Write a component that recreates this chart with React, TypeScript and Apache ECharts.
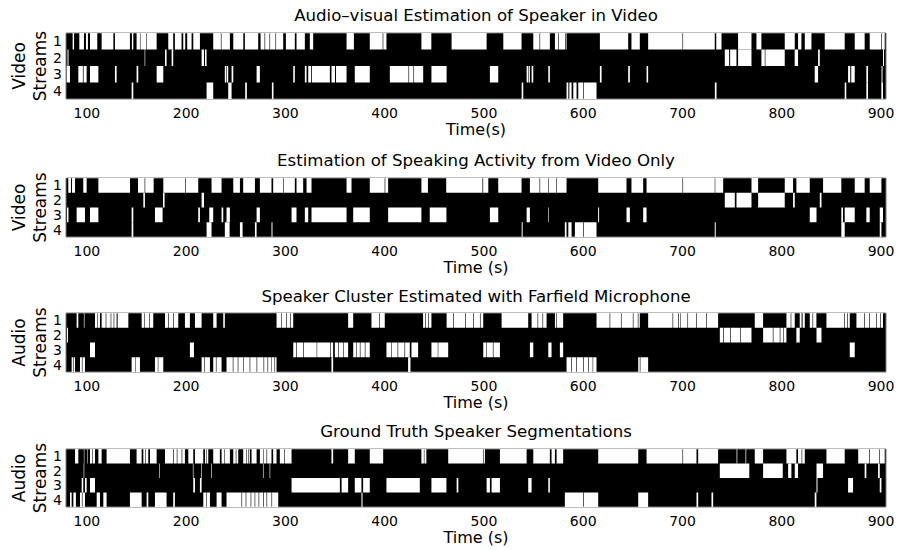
import React, { useEffect, useRef } from 'react';
import * as echarts from 'echarts';

const rowLabels = ['1', '2', '3', '4'];
const xTicks = [100, 200, 300, 400, 500, 600, 700, 800, 900];
const X_MIN = 79;
const X_MAX = 905;

const panelTitles = [
  'Audio\u2013visual Estimation of Speaker in Video',
  'Estimation of Speaking Activity from Video Only',
  'Speaker Cluster Estimated with Farfield Microphone',
  'Ground Truth Speaker Segmentations',
];
const yNamesTop = ['Video', 'Video', 'Audio', 'Audio'];
const yNamesBottom = ['Streams', 'Streams', 'Streams', 'Streams'];
const xNames = ['Time(s)', 'Time (s)', 'Time (s)', 'Time (s)'];

// White (speaking) intervals [start, end] in seconds, per stream row
const avRow1 = [[85.7,87.1],[92.4,97.1],[99.1,101.1],[103.2,110.5],[114.9,126.7],[128.3,143.4],[145.4,146.8],[150.1,153.5],[154,160],[160.5,170.3],[182,187],[188.7,195.4],[197.1,199.1],[201.1,205.5],[207.2,213.9],[227.3,235],[235.6,244.1],[247.5,257.6],[259.2,272.6],[275,279],[279.6,284],[284.6,290],[290.6,297.8],[300.5,309.5],[311.2,319.6],[324.6,328],[361.6,369],[385,398],[398.6,401.8],[437,447],[467.4,502.7],[519.5,537.9],[549.7,556],[556.6,566.4],[571.5,575],[575.6,582],[582.6,583.2],[616.8,645.3],[648.6,657],[665.4,700],[700.6,732.5],[734,739.3],[756,769.5],[774.5,779.5],[803,813.1],[816.4,819.8],[823.2,829.9],[843.3,863.4],[873.5,883.5],[888.6,900],[900.6,903.7]];
const avRow2 = [[80.5,81.5],[158.2,158.8],[178.7,180.3],[185.4,187],[215.6,218],[219,220.6],[742.6,747],[748,754.4],[756,769.5],[779.5,782.9],[783.5,803],[813,816.4],[836.6,838.3],[902,903]];
const avRow3 = [[79.7,83],[91.4,96],[96.7,99.8],[103.2,111.6],[128.3,130],[150.1,151.8],[170.3,177],[239,240.5],[241,242.4],[245.8,247.5],[271,274.3],[307.9,309.5],[319.6,321.3],[323,326],[326.8,344.8],[346.4,350],[351,361.6],[369.9,385],[405.2,424],[424.6,429],[429.6,438.8],[447.1,462.4],[506,514.4],[543,544.5],[545,546.3],[548,549.7],[564.8,566.4],[616.8,618.5],[645.3,647],[663.8,665.4],[833.2,836.6],[866.8,869],[870,873.5],[885.2,886.9],[900.5,901.5]];
const avRow4 = [[145.1,146.8],[220.6,227.3],[242.4,245.8],[259.5,261.2],[286.4,288],[538,539.6],[583.2,585],[586,588.3],[590,593.3],[595,600],[600.6,613.4],[732.6,734.3],[863.4,865],[885.2,886.9],[900.3,902]];

const voRow1 = [[81.3,84],[85,88.1],[96.4,99.8],[111.6,143.5],[151.5,158.2],[158.8,167.3],[177,199],[199.6,212.2],[225.6,235.7],[247.5,254.2],[257.5,269.3],[274.3,286],[287.7,298],[298.6,309.5],[311.2,317.9],[321.3,326.3],[361.6,366.6],[385,400],[400.6,403.5],[437,443.6],[462,498.5],[499.2,504.4],[514.4,537.9],[546.3,556],[556.6,564.8],[565.3,573],[573.6,583.2],[615.1,643.6],[648.6,660.4],[663.8,700],[700.6,732.5],[733,741],[769.5,776.2],[803,811.4],[814.7,828.2],[841.6,860],[873.5,883.5],[888.6,900.4]];
const voRow2 = [[156.9,158.5],[176.7,178.3],[215.6,218],[742.6,752.7],[754.4,769.5],[776.2,803],[811.4,813.1],[838.3,840]];
const voRow3 = [[80,81.5],[89.7,98.1],[103.2,111.6],[145.1,146.8],[168.6,176.3],[212.2,213.9],[223.3,227.3],[235.7,237.4],[240.7,244.1],[271,274.3],[306.2,311.2],[319.6,323],[326.3,361.6],[368.3,385],[403.5,437],[445.4,462.2],[506,514.4],[543,546.3],[564.8,565.4],[615,616],[643.6,647],[660.4,663.8],[828.2,835],[860,861.7],[863.4,873.5],[885.2,888.6],[898.7,902]];
const voRow4 = [[145.1,146.8],[220.6,225.6],[239,243.8],[254.2,256.9],[269.3,271],[286,287],[538,539],[581.5,583.2],[585,588.3],[591.6,600],[600.6,613.4],[732.5,733.5],[860,863.4],[898.7,900.4]];

const ffRow1 = [[89.7,91.4],[97,97.6],[108.2,110.5],[111,113.2],[114.9,119],[119.6,124],[124.6,127],[127.6,130],[131,141.8],[155.2,158],[158.6,163],[163.6,166.9],[178.7,182],[182.6,187],[187.6,192.1],[198.8,203.8],[208.9,215.6],[227.3,230.7],[237.4,239],[291.1,296],[296.6,301],[301.6,305],[305.6,307.9],[363.2,368.3],[386.7,394.5],[395.1,400.1],[438.7,441],[441.6,444],[444.6,447.1],[462.4,469],[469.6,481],[481.6,489],[489.6,496],[496.6,499.3],[517.8,544.6],[548,554],[554.6,559],[559.6,563.1],[571.5,573],[573.6,579.8],[613.4,626.6],[627.2,638],[638.6,650],[650.6,655],[655.6,657],[665.4,690],[690.6,695.6],[696.2,697.5],[698,705],[705.6,714],[714.6,724],[724.6,735.9],[772.8,781.2],[804.7,809],[809.6,813.1],[818.1,820],[821,823.2],[828.2,831],[831.6,834.9],[845,863],[863.6,866],[866.6,868.5],[875.2,883],[883.6,888],[888.6,895],[895.6,899],[899.6,902]];
const ffRow2 = [[80,81],[737.6,741],[741.6,748],[748.6,758],[758.6,769.5],[781.2,791],[791.6,798],[798.6,801.5],[802,804.7],[814.7,818.1],[835,840]];
const ffRow3 = [[103.2,108.2],[203.8,207.9],[307.9,311],[311.6,318],[318.6,331.5],[332,345],[345.6,348.1],[349.8,353],[353.6,358],[358.6,363.2],[368.3,371.5],[372,375],[375.6,380],[380.6,385],[401.8,406.5],[407,413],[413.6,420],[420.6,425.3],[427,433.7],[447.1,453.5],[454,464],[499.3,502.5],[503,509],[509.6,516.1],[546.3,549.7],[564.8,568.1],[576.5,579.8],[868.5,873.5]];
const ffRow4 = [[84.7,86],[86.6,88.1],[93.1,95],[95.6,98.1],[145.1,148.5],[149,153.5],[168.6,171.5],[172,177],[215.6,218],[218.6,224],[227.3,230],[230.6,235.7],[240.7,247],[247.6,252],[252.6,257.5],[258,264],[264.6,271],[271.6,278],[278.6,282],[282.6,285.5],[286,289],[289.6,291.1],[346.4,348.1],[423.6,426],[583.2,588],[588.6,593],[593.6,600],[600.6,605],[605.6,609.5],[610,613.4],[655.4,657],[657.6,665.4]];

const gtRow1 = [[88.1,91.4],[97,97.5],[100.3,100.8],[103.2,105.5],[106,108.2],[111.6,114.9],[119.9,143.4],[150.1,155.2],[156.9,159],[159.6,161.9],[163.6,170.3],[178.7,187],[187.6,190.6],[191.2,195.5],[196.1,198.8],[202.2,207.2],[208.9,217.3],[219,220.5],[221,222.3],[227.3,234],[235.7,238.5],[239,244.1],[247.5,250],[250.6,252.5],[257.5,260.5],[261,262.5],[263,264.2],[265.9,271],[274.3,277.5],[278,281],[281.6,286],[287.7,291.1],[294.4,299],[299.6,306.2],[346.4,348.1],[363.2,369.9],[385,398.5],[437,439.5],[440,442],[464,499],[499.6,501],[516.1,543],[549.7,566.4],[568.1,571.5],[573.2,579.8],[615.1,655.4],[663.8,700],[700.6,714.1],[715.8,735.9],[754.5,755.2],[763.5,764.2],[772.8,781.2],[804.7,814.7],[816.4,820],[820.6,823.2],[845,863.4],[877,888],[888.6,898],[898.6,903.7]];
const gtRow2 = [[96.8,97.4],[172.8,173.4],[206.8,207.4],[215.3,215.9],[225.3,225.9],[277.4,278],[284.1,284.7],[737.6,767.3],[781.2,801],[806.4,809.7],[813.1,816.4],[835,841.6],[883.5,885.2],[897,898.7]];
const gtRow3 = [[94.8,96.4],[98.1,99.8],[103.2,108.2],[207.2,208.9],[213.9,215.6],[306.2,354.9],[356.6,363.2],[369.9,376.6],[378.3,385],[401.8,435.4],[447.1,462.2],[472.5,474.2],[502.7,506],[507.7,516.1],[544.6,548],[564.8,566.4],[835,836],[866.8,871.8],[898.7,900.4]];
const gtRow4 = [[83,84.7],[86.4,89],[93.1,95],[95.6,98.1],[109.9,113.2],[116.6,119.9],[143.4,155.2],[160.2,161.9],[168.6,180.3],[187,188.7],[217.3,220],[220.6,224],[230.7,235.7],[240.7,255.8],[256.4,260],[260.6,265],[265.6,269],[269.6,273],[273.6,277.7],[278.3,281],[281.6,286],[286.6,292.8],[376.6,377.7],[581.5,600],[600.6,615.1],[655.4,665.4],[714.1,715.8],[729.2,730.9],[833.2,834.9]];

const panelRows = [
  [avRow1, avRow2, avRow3, avRow4],
  [voRow1, voRow2, voRow3, voRow4],
  [ffRow1, ffRow2, ffRow3, ffRow4],
  [gtRow1, gtRow2, gtRow3, gtRow4],
];

const FONT = 'DejaVu Sans, Verdana, sans-serif';
const gridBoxes = [
  { top: 33, height: 66 },
  { top: 178, height: 59 },
  { top: 313, height: 59 },
  { top: 449, height: 58 },
];
const titleY = [15, 160, 296, 431];
const PLOT_LEFT = 66;
const PLOT_RIGHT = 886;

export default function App() {
  const ref = useRef<HTMLDivElement>(null);
  useEffect(() => {
    if (!ref.current) return;
    const chart = echarts.init(ref.current, null, { renderer: 'svg' });
    const grids: any[] = [];
    const xAxes: any[] = [];
    const yAxes: any[] = [];
    const series: any[] = [];
    const graphics: any[] = [];
    const cx = (PLOT_LEFT + PLOT_RIGHT) / 2;
    const txt = (text: string, x: number, y: number, size: number, rot = 0) => ({
      type: 'text',
      x,
      y,
      rotation: rot,
      style: {
        text,
        fill: '#000',
        fontSize: size,
        fontFamily: FONT,
        textAlign: 'center',
        textVerticalAlign: 'middle',
        align: 'center',
        verticalAlign: 'middle',
      },
    });
    panelRows.forEach((rows, i) => {
      const g = gridBoxes[i];
      grids.push({
        left: PLOT_LEFT,
        width: PLOT_RIGHT - PLOT_LEFT,
        top: g.top,
        height: g.height,
        show: true,
        backgroundColor: '#000',
        borderColor: '#7a7a7a',
        borderWidth: 1,
      });
      xAxes.push({
        gridIndex: i,
        type: 'value',
        min: X_MIN,
        max: X_MAX,
        axisLine: { show: false },
        axisTick: { show: false },
        splitLine: { show: false },
        axisLabel: {
          customValues: xTicks,
          fontSize: 14,
          color: '#000',
          margin: 7,
          fontFamily: FONT,
        },
        name: xNames[i],
        nameLocation: 'middle',
        nameGap: 22,
        nameTextStyle: { fontSize: 16, color: '#000', fontFamily: FONT },
      });
      yAxes.push({
        gridIndex: i,
        type: 'category',
        data: rowLabels,
        inverse: true,
        axisLine: { show: false },
        axisTick: { show: false },
        splitLine: { show: false },
        axisLabel: {
          interval: 0,
          fontSize: 14,
          color: '#000',
          margin: 4,
          fontFamily: FONT,
        },
      });
      const data: any[] = [];
      rows.forEach((segs, r) => {
        segs.forEach((s) => data.push([r, s[0], s[1]]));
      });
      series.push({
        type: 'custom',
        xAxisIndex: i,
        yAxisIndex: i,
        encode: { x: [1, 2], y: 0 },
        data,
        renderItem: (params: any, api: any) => {
          const row = api.value(0);
          const p0 = api.coord([api.value(1), row]);
          const p1 = api.coord([api.value(2), row]);
          const h = api.size([0, 1])[1];
          const rect = echarts.graphic.clipRectByRect(
            { x: p0[0], y: p0[1] - h / 2, width: p1[0] - p0[0], height: h },
            {
              x: params.coordSys.x,
              y: params.coordSys.y,
              width: params.coordSys.width,
              height: params.coordSys.height,
            }
          );
          return rect && { type: 'rect', shape: rect, style: { fill: '#fff' } };
        },
      });
      const midY = g.top + g.height / 2;
      graphics.push(txt(panelTitles[i], cx, titleY[i], 16.6));
      graphics.push(txt(yNamesTop[i], 18.5, midY, 17, Math.PI / 2));
      graphics.push(txt(yNamesBottom[i], 39.5, midY, 17, Math.PI / 2));
    });
    chart.setOption({
      animation: false,
      backgroundColor: '#fff',
      grid: grids,
      xAxis: xAxes,
      yAxis: yAxes,
      series,
      graphic: graphics,
    });
    return () => chart.dispose();
  }, []);
  return (
    <div
      ref={ref}
      style={{ position: 'fixed', left: 0, top: 0, width: 898, height: 550 }}
    />
  );
}
